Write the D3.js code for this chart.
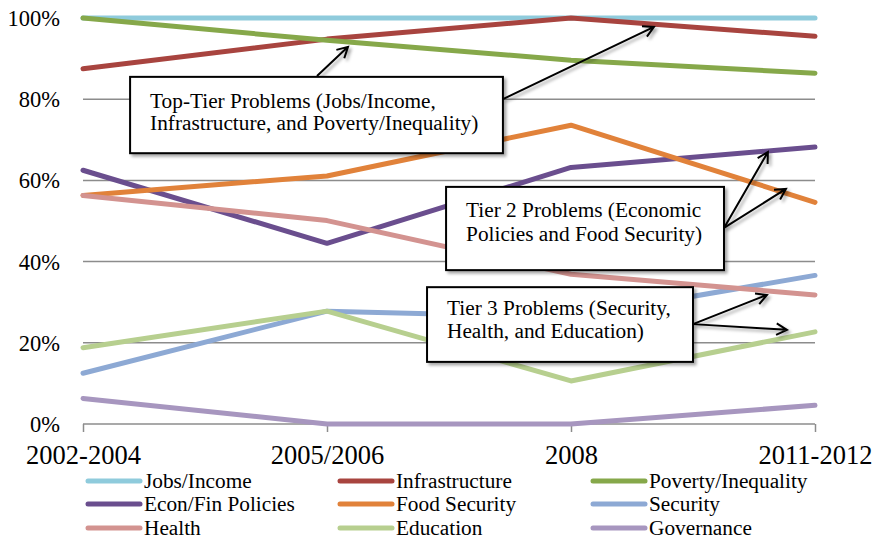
<!DOCTYPE html>
<html><head><meta charset="utf-8">
<script src="https://cdn.jsdelivr.net/npm/d3@7"></script>
<style>
body{margin:0;background:#fff;}
svg{display:block;}
svg text{font-family:"Liberation Serif","Times New Roman",serif;}
</style></head>
<body><svg id="chart" width="874" height="540" font-family="Liberation Serif"></svg>
<script>
const categories = ["2002-2004","2005/2006","2008","2011-2012"];
const seriesNames = ["Jobs/Income","Infrastructure","Poverty/Inequality","Econ/Fin Policies","Food Security","Security","Health","Education","Governance"];
const jobsIncome      = [100, 100, 100, 100];
const infrastructure  = [87.5, 94.8, 100, 95.5];
const povertyIneq     = [100, 94.5, 89.6, 86.4];
const econFinPolicies = [62.5, 44.5, 63.2, 68.2];
const foodSecurity    = [56.3, 61.1, 73.6, 54.6];
const security        = [12.5, 27.8, 26.3, 36.6];
const health          = [56.3, 50.1, 36.9, 31.8];
const education       = [18.8, 27.8, 10.6, 22.7];
const governance      = [6.3, 0, 0, 4.6];
const yTicks = [0, 20, 40, 60, 80, 100];
const colors = ["#8FCBDC","#A8443F","#86A84A","#6A4E8E","#E1823A","#8DA9D4","#D39390","#B7CF8F","#A796BF"];
const seriesValues = [jobsIncome, infrastructure, povertyIneq, econFinPolicies, foodSecurity, security, health, education, governance];

// annotations in data space: x = category index, y = percent
const boxes = [
  {x0:0.193, x1:1.721, y0:85.5, y1:66.7, lines:["Top-Tier Problems (Jobs/Income,","Infrastructure, and Poverty/Inequality)"], dy:[31,53]},
  {x0:1.488, x1:2.627, y0:58.4, y1:37.9, lines:["Tier 2 Problems (Economic","Policies and Food Security)"], dy:[30,54]},
  {x0:1.410, x1:2.500, y0:33.7, y1:15.3, lines:["Tier 3 Problems (Security,","Health, and Education)"], dy:[28,51]}
];
const arrows = [
  {from:[0.959,85.7], to:[1.086,92.9]},
  {from:[1.721,80.0], to:[2.340,97.8]},
  {from:[2.627,48.3], to:[2.807,67.0]},
  {from:[2.627,48.3], to:[2.881,57.9]},
  {from:[2.500,24.6], to:[2.803,31.8]},
  {from:[2.500,24.6], to:[2.885,23.2]}
];

const FONT = "Liberation Serif";
const svg = d3.select("#chart");
const mLeft = 83, mRight = 815, mTop = 18, mBottom = 424;
const x = d3.scalePoint().domain(categories).range([mLeft, mRight]);
const xi = d3.scaleLinear().domain([0, categories.length-1]).range([mLeft, mRight]);
const y = d3.scaleLinear().domain([0, 100]).range([mBottom, mTop]);

const defs = svg.append("defs");
const f = defs.append("filter").attr("id","shadow").attr("x","-10%").attr("y","-10%").attr("width","130%").attr("height","140%");
f.append("feDropShadow").attr("dx",2.5).attr("dy",2.5).attr("stdDeviation",1.8).attr("flood-color","#000").attr("flood-opacity",0.35);

// gridlines
svg.append("g").selectAll("line").data(yTicks.filter(d=>d>0)).join("line")
  .attr("x1",mLeft).attr("x2",mRight).attr("y1",d=>y(d)).attr("y2",d=>y(d))
  .attr("stroke","#8c8c8c").attr("stroke-width",1.5);

// y labels
svg.append("g").selectAll("text").data(yTicks).join("text")
  .attr("x",60).attr("y",d=>y(d)+8).attr("text-anchor","end")
  .attr("font-family",FONT).attr("font-size",22.5).attr("fill","#000").text(d=>d+"%");

// x axis
const xAxis = d3.axisBottom(x).tickSize(8).tickPadding(0);
const gx = svg.append("g").attr("transform",`translate(0,${mBottom})`).call(xAxis).attr("font-family",FONT);
gx.select(".domain").attr("stroke","#8c8c8c").attr("stroke-width",1.5).attr("d",`M${mLeft},0H${mRight}`);
gx.selectAll(".tick line").attr("stroke","#8c8c8c").attr("stroke-width",1.5);
gx.selectAll(".tick text").attr("font-size",26.5).attr("font-family",FONT).attr("fill","#000")
  .attr("y",40).attr("dy",0);

// lines
const line = d3.line().x((d,i)=>x(categories[i])).y(d=>y(d));
svg.append("g").selectAll("path").data(seriesValues).join("path")
  .attr("d",line).attr("fill","none").attr("stroke",(d,i)=>colors[i])
  .attr("stroke-width",5).attr("stroke-linecap","round").attr("stroke-linejoin","round");

// annotation arrows
const ag = svg.append("g").attr("filter","url(#shadow)");
arrows.forEach(a=>{
  const x1=xi(a.from[0]), y1=y(a.from[1]), x2=xi(a.to[0]), y2=y(a.to[1]);
  const ang=Math.atan2(y2-y1,x2-x1), L=12, w=0.5;
  ag.append("path").attr("fill","none").attr("stroke","#000").attr("stroke-width",2)
    .attr("stroke-linejoin","miter")
    .attr("d",`M${x1},${y1}L${x2},${y2}M${x2-L*Math.cos(ang-w)},${y2-L*Math.sin(ang-w)}L${x2},${y2}L${x2-L*Math.cos(ang+w)},${y2-L*Math.sin(ang+w)}`);
});

// boxes
boxes.forEach(b=>{
  const bx=xi(b.x0), by=y(b.y0), bw=xi(b.x1)-xi(b.x0), bh=y(b.y1)-y(b.y0);
  const g=svg.append("g");
  g.append("rect").attr("x",bx).attr("y",by).attr("width",bw).attr("height",bh)
    .attr("fill","#fff").attr("stroke","#000").attr("stroke-width",2).attr("filter","url(#shadow)");
  b.lines.forEach((t,i)=>g.append("text").attr("x",bx+20).attr("y",by+b.dy[i])
    .attr("font-family",FONT).attr("font-size",21.3).attr("fill","#000").text(t));
});

// legend
const legCols=[86,338,591], legRows=[481,504,528];
const lg=svg.append("g");
seriesNames.forEach((n,i)=>{
  const cx=legCols[i%3], cy=legRows[Math.floor(i/3)];
  lg.append("line").attr("x1",cx+2).attr("x2",cx+54).attr("y1",cy).attr("y2",cy)
    .attr("stroke",colors[i]).attr("stroke-width",5).attr("stroke-linecap","round");
  lg.append("text").attr("x",cx+58).attr("y",cy+6.5).attr("font-family",FONT).attr("font-size",21.3).attr("fill","#000").text(n);
});
</script></body></html>
